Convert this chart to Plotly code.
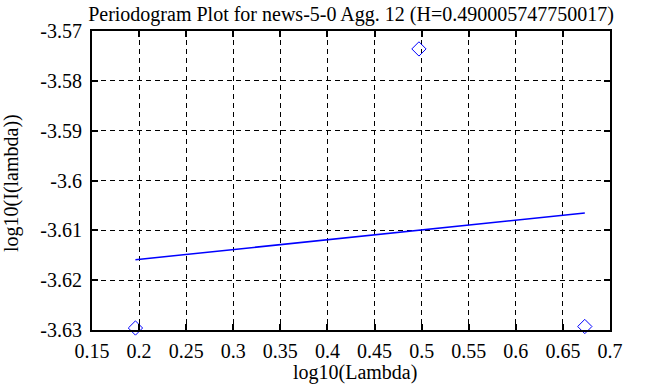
import plotly.graph_objects as go

title_text = "Periodogram Plot for news-5-0 Agg. 12 (H=0.490005747750017)"
x_label = "log10(Lambda)"
y_label = "log10(I(lambda))"

# periodogram points
pts_x = [0.19612, 0.49715, 0.67324]
pts_y = [-3.6296, -3.5736, -3.6293]

# fitted line endpoints
fit_x = [0.19612, 0.67324]
fit_y = [-3.6159, -3.6065]

x_ticks = [0.15, 0.2, 0.25, 0.3, 0.35, 0.4, 0.45, 0.5, 0.55, 0.6, 0.65, 0.7]
x_ticktext = ["0.15", "0.2", "0.25", "0.3", "0.35", "0.4", "0.45", "0.5", "0.55", "0.6", "0.65", "0.7"]
y_ticks = [-3.63, -3.62, -3.61, -3.6, -3.59, -3.58, -3.57]
y_ticktext = ["-3.63", "-3.62", "-3.61", "-3.6", "-3.59", "-3.58", "-3.57"]

font_family = "Liberation Serif, Times New Roman, serif"
FS = 20
W, H = 652, 387
ML, MR, MT, MB = 92, 42, 31, 57
PW, PH = W - ML - MR, H - MT - MB

fig = go.Figure()
fig.add_trace(go.Scatter(
    x=pts_x, y=pts_y, mode="markers",
    marker=dict(symbol="diamond-open", size=11, color="#0000ff", line=dict(width=1, color="#0000ff")),
    showlegend=False, cliponaxis=False,
))
fig.add_trace(go.Scatter(
    x=fit_x, y=fit_y, mode="lines",
    line=dict(color="#0000ff", width=1.5),
    showlegend=False,
))

axis_common = dict(
    showline=True, linecolor="black", linewidth=2, mirror="allticks",
    ticks="inside", ticklen=6, tickwidth=2, tickcolor="black",
    showgrid=True, gridcolor="black", gridwidth=1, griddash="5px,4px",
    zeroline=False, automargin=False,
    tickfont=dict(family=font_family, size=FS, color="black"),
)

fig.update_xaxes(range=[0.15, 0.7], tickvals=x_ticks, ticktext=x_ticktext,
                 ticklabelstandoff=2, **axis_common)
fig.update_yaxes(range=[-3.63, -3.57], tickvals=y_ticks, ticktext=y_ticktext,
                 ticklabelstandoff=4, **axis_common)

# axis titles placed as annotations
fig.add_annotation(text=x_label, xref="paper", yref="paper",
                   x=(355 - ML) / PW, y=-(386 - (MT + PH)) / PH,
                   xanchor="center", yanchor="bottom", showarrow=False,
                   font=dict(family=font_family, size=FS, color="black"))
fig.add_annotation(text=y_label, xref="paper", yref="paper",
                   x=(11 - ML) / PW, y=1 - (183 - MT) / PH,
                   xanchor="center", yanchor="middle", showarrow=False, textangle=-90,
                   font=dict(family=font_family, size=FS, color="black"))

fig.update_layout(
    width=W, height=H,
    margin=dict(l=ML, r=MR, t=MT, b=MB),
    paper_bgcolor="white", plot_bgcolor="white",
    title=dict(text=title_text, xref="paper", x=0.5, xanchor="center", y=1 - 14 / H, yanchor="middle",
               font=dict(family=font_family, size=FS, color="black")),
    font=dict(family=font_family, color="black"),
)

fig.write_html("out.html",
               config={"displayModeBar": False, "staticPlot": True},
               post_script="document.body.style.margin='0';document.body.style.overflow='hidden';")
